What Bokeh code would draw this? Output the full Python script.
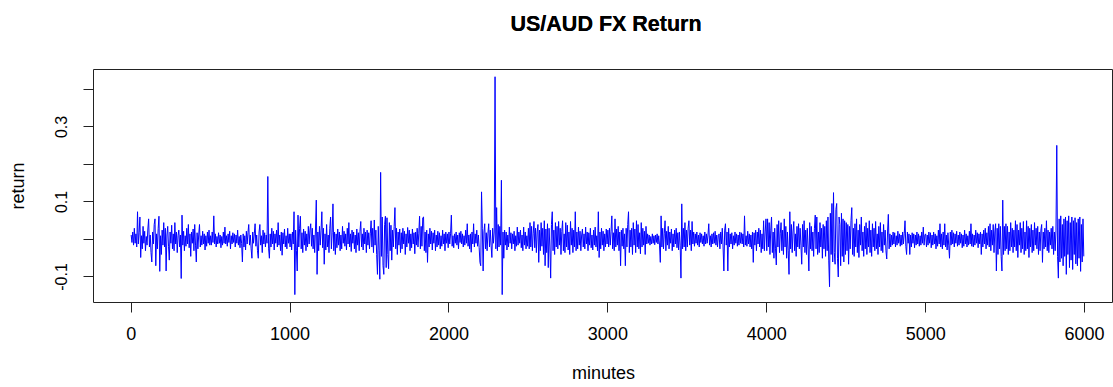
from bokeh.plotting import figure
from bokeh.models import FixedTicker, Range1d, Title
from bokeh.embed import file_html
from bokeh.resources import INLINE
import numpy as np

# US/AUD returns in thousandths, one value every 5 minutes, 500 minutes per list
ret_0000 = [12, -8, 20, -15, 30, -10, 15, -20, 74, -12,
            18, 60, -48, 10, -25, 35, -10, 22, -30, 8,
            -15, 28, 55, -20, 12, -35, -60, 20, -12, 40,
            55, -70, 15, -25, 30, 62, -85, 10, -40, 25,
            -15, 45, -20, 30, -84, 12, 35, -18, -55, 20,
            -10, 38, -25, 15, -30, 45, -12, 20, -35, 10,
            25, -20, 12, -104, 65, -15, 22, -30, 10, -18,
            30, -12, 40, -22, 15, -45, 20, -10, 28, -30,
            40, -15, -60, 18, -25, 12, 40, -20, 10, -15,
            22, -12, 15, -28, 10, -18, 20, -10, 25, -15]
ret_0500 = [10, -15, 20, -8, 63, -12, 15, -20, 8, -12,
            18, -10, 12, -22, 8, -15, 20, -10, 33, -12,
            10, -18, 15, -8, 22, -25, 10, -12, 18, -8,
            15, -20, 12, -10, 25, -15, 8, -22, 12, -10,
            -60, 15, -20, 10, -28, 22, -12, 18, 40, -15,
            12, -25, -50, 20, -10, 15, 42, -18, 12, -30,
            -50, 20, 40, -15, 10, -35, 25, -12, 18, -20,
            12, -10, 168, -25, -50, 15, -20, 30, -12, 22,
            -28, 15, -10, 25, -20, 45, -15, 12, -30, 20,
            -42, 18, -12, 28, -20, 10, -25, 30, -10, 15]
ret_1000 = [-20, 15, -28, 20, -12, 74, -147, 25, -30, -84,
            65, -20, 30, 62, -25, 18, -35, 28, -15, 22,
            -30, 15, -20, 35, -12, 25, 42, -18, 30, -25,
            12, -35, 28, 105, -93, 20, -30, 35, -15, 25,
            74, -22, 30, -66, 15, -28, 40, -20, 12, -35,
            30, 60, -25, 18, 95, -30, 20, -40, 15, -22,
            28, -15, 20, -30, 12, -25, 35, -10, 22, -18,
            15, -28, 30, -12, 45, -20, 15, -32, 25, -10,
            20, -25, 12, -35, 28, -15, 18, -30, 22, 48,
            -20, 15, -28, 30, -12, 20, -35, 25, -15, 18]
ret_1500 = [-25, 15, 50, -20, 30, -35, 52, -15, 25, -40,
            -93, 35, -30, -106, 179, -45, 60, -70, -93, 40,
            62, -75, 58, -40, -78, 45, -30, 38, -55, 25,
            -20, 35, 85, -25, 30, -40, 20, -15, 28, -35,
            18, -25, 30, -12, 22, -40, 15, -20, 32, -10,
            25, -30, 15, -22, 28, -12, 18, -38, 20, -15,
            30, -20, 15, 62, -25, 35, -18, 58, 60, -30,
            20, -35, 25, -61, 15, -20, 30, -12, 22, -28,
            18, -10, 25, -30, 12, -20, 22, -15, 18, -25,
            10, -18, 25, -12, 15, -30, 20, -10, 15, -22]
ret_2000 = [20, -12, 15, 65, -18, 10, -22, 15, -10, 20,
            -15, 12, -25, 18, -8, 22, -12, 15, -20, 10,
            -15, 25, -10, 42, -18, 12, -25, 15, -34, 20,
            -12, 42, -20, 15, -10, 25, -18, 12, -22, -61,
            -70, 127, 30, -84, 20, 42, -25, 18, -30, 15,
            42, -20, 25, -15, -48, 30, -10, 20, 434, -25,
            85, -30, 40, -20, 35, -15, 158, -147, 20, -50,
            25, -15, 20, -28, 12, -20, 33, -10, 18, -25,
            15, -12, 22, -30, 10, -18, 33, -15, 20, -10,
            25, -22, 12, -30, 33, -15, 20, -25, 10, -18]
ret_2500 = [30, -25, 45, -20, 35, -30, 15, 48, -22, 30,
            -35, 20, 40, -61, 25, -30, 45, -18, 30, -40,
            50, -70, 28, -35, 42, -75, 30, -20, -103, 40,
            74, -30, 25, -40, 45, -20, 35, -25, 48, -15,
            30, -40, 22, 50, -30, 15, -35, 45, -20, 38,
            -28, 20, -40, 48, -15, 30, -35, 25, -20, 74,
            -30, 20, -25, 33, -15, 22, -30, 12, 28, -20,
            15, -25, 33, -12, 20, -30, 18, -15, 30, -22,
            12, -28, 25, -15, 33, -20, 10, -30, 74, -48,
            20, -25, 30, -15, 22, -30, 15, -20, 28, -12]
ret_3000 = [25, -20, 30, -15, 22, 63, -25, 18, -30, 55,
            -20, 28, -15, 35, -30, 20, -70, 25, -18, 30,
            -25, 15, -70, 30, -20, 40, 74, -35, 25, -20,
            30, -40, 45, -15, 28, -35, 50, -20, 40, -25,
            18, -38, 45, -20, 30, -15, 22, -40, 35, -12,
            15, -10, 12, -15, 8, -12, 15, -10, 10, -14,
            12, -8, 15, -12, 10, -15, -61, 63, -20, 30,
            -25, 15, 50, -30, 22, -15, 35, -25, 20, -10,
            28, -30, 15, -20, 25, -12, 30, -22, 18, -28,
            20, -15, -103, 95, -25, 30, -20, 45, -30, 25]
ret_3500 = [-20, 30, 50, -15, 25, -30, 48, -12, 20, -18,
            15, -10, 20, -15, 12, -20, 18, -8, 15, -12,
            10, -18, 20, -12, 15, -10, 12, 42, -15, 10,
            -20, 15, -12, 18, -10, 22, -15, 12, -20, 10,
            15, -25, 20, -12, 30, -20, -84, 25, 42, -15,
            20, -84, 30, -20, 15, -12, 18, -25, 10, -15,
            20, -10, 15, -18, 12, -15, 20, -10, 18, -12,
            15, -20, 63, -15, 10, -18, 22, -12, 15, -20,
            12, -25, 20, -61, 18, -15, 25, -30, 20, -12,
            30, -20, 25, -35, 15, -25, 50, -30, 20, 55]
ret_4000 = [-30, 55, -20, 45, -40, 25, 60, -35, 20, -50,
            30, -25, -68, 40, -20, 50, -35, 15, 45, -30,
            25, -40, 55, -20, 35, -50, 20, -30, -93, 74,
            -25, 40, -35, 20, 48, -30, 15, -45, 35, -20,
            42, -25, 30, -15, -66, 40, -20, 50, -35, 25,
            -40, 30, -20, -84, 45, -25, 35, -30, 20, -45,
            30, 65, -25, 60, -40, 20, -35, 45, -20, 30,
            -50, 40, -25, 35, -45, 50, -30, 60, -55, -126,
            70, -40, 96, -60, 125, -35, -66, 80, 96, -50,
            -100, 60, 40, -70, 70, -45, 55, -60, 50, -40]
ret_4500 = [45, -30, 40, -66, 35, -25, 50, 85, -40, 30,
            -45, 42, -20, 55, -35, 25, -48, 40, -15, 60,
            -30, 20, -45, 35, -25, 45, -40, 30, -20, 50,
            -35, 25, -45, 42, -20, 30, -30, 48, -25, 15,
            -40, 35, -20, 45, -30, 20, -35, 40, -15, 25,
            -30, -52, 20, 67, -25, 15, -20, 12, -15, 20,
            -12, 18, -20, 10, -15, 22, -10, 15, -18, 12,
            -15, 20, -12, 15, 50, -18, -40, 20, -10, 15,
            -40, 12, -20, 18, -10, 15, -22, 12, -15, 20,
            -12, 15, -18, 10, -15, 20, -10, 33, -15, 12]
ret_5000 = [15, -20, 12, -15, 20, -10, 18, -22, 12, -15,
            20, -12, 15, -25, 10, -18, 25, -12, 42, -20,
            15, -25, 20, -15, 42, -20, 12, -28, 18, -15,
            -50, 20, -15, 25, -12, 18, -20, 15, -10, 22,
            -18, 12, -15, 20, -10, 15, -22, 12, -18, 25,
            -12, 15, -20, 10, -15, 22, -12, 42, -18, 15,
            -20, 12, -15, 25, -10, 18, -22, 15, -12, 20,
            -40, 15, -20, 25, -12, 30, -25, 18, -15, 35,
            -20, 42, -30, 25, -15, 40, -35, 20, 42, -84,
            30, -40, 42, -25, 35, -45, -84, 105, -40, 35]
ret_5500 = [-30, 42, -25, 35, -40, 20, -30, 45, -20, 30,
            -35, 25, -20, 50, -30, 40, -48, 25, -15, 45,
            -35, 30, -25, 48, -40, 20, -30, 50, -25, 35,
            -48, 30, -20, 40, -35, 25, -30, 45, -15, 30,
            -25, 35, -40, 20, -30, 25, 40, -61, 20, -25,
            30, -20, 50, -30, 25, -35, 20, -15, 30, -25,
            35, -40, 20, -30, 25, 251, -45, -103, 55, -60,
            63, -50, 40, -70, 55, -45, 60, -93, 50, -40,
            63, -75, 45, -55, 60, -80, 50, -40, 58, -65,
            45, -70, 55, -50, 60, -85, 40, -60, 55, -45]

x_ticks = [0, 1000, 2000, 3000, 4000, 5000, 6000]
y_ticks = [-0.1, 0.0, 0.1, 0.2, 0.3, 0.4]
y_tick_labels = {-0.1: "-0.1", 0.0: "", 0.1: "0.1", 0.2: "", 0.3: "0.3", 0.4: ""}

ret = np.array(ret_0000 + ret_0500 + ret_1000 + ret_1500 + ret_2000 + ret_2500 +
               ret_3000 + ret_3500 + ret_4000 + ret_4500 + ret_5000 + ret_5500) / 1000.0
minutes = np.arange(len(ret)) * 5

FONT = "Liberation Sans"

p = figure(width=1113, height=387, output_backend="svg", toolbar_location=None,
           x_range=Range1d(-237, 6182), y_range=Range1d(-0.168, 0.4533),
           min_border_left=93, min_border_right=0, min_border_top=69,
           min_border_bottom=85, title="US/AUD FX Return")

p.line(minutes, ret, line_color="#0000FF", line_width=1)

p.title.align = "left"
p.title.offset = 417
p.title.vertical_align = "bottom"
p.title.text_font = FONT
p.title.text_font_size = "21.5px"
p.title.text_font_style = "bold"
p.title.text_color = "black"
p.title.standoff = 0

# blank spacer between plot frame and title (R puts the title higher)
spacer = Title(text=" ", text_font=FONT, text_font_size="6px", standoff=0)
p.above = [spacer, p.title]

p.xgrid.visible = False
p.ygrid.visible = False
p.outline_line_color = "#222222"
p.outline_line_width = 1
p.outline_line_alpha = 1

for ax in (p.xaxis[0], p.yaxis[0]):
    ax.axis_line_color = "#222222"
    ax.major_tick_line_color = "#222222"
    ax.major_tick_out = 10
    ax.major_tick_in = 0
    ax.minor_tick_line_color = None
    ax.major_label_text_font = FONT
    ax.major_label_text_color = "black"
    ax.axis_label_text_font = FONT
    ax.axis_label_text_font_size = "18px"
    ax.axis_label_text_font_style = "normal"
    ax.axis_label_text_color = "black"

p.xaxis.ticker = FixedTicker(ticks=x_ticks)
p.xaxis.bounds = (x_ticks[0], x_ticks[-1])
p.xaxis.axis_label = "minutes"
p.xaxis.major_label_text_font_size = "18px"
p.xaxis.major_label_standoff = 14
p.xaxis.axis_label_standoff = 20

p.yaxis.ticker = FixedTicker(ticks=y_ticks)
p.yaxis.bounds = (y_ticks[0], y_ticks[-1])
p.yaxis.major_label_overrides = y_tick_labels
p.yaxis.major_label_orientation = "vertical"
p.yaxis.major_label_text_font_size = "16px"
p.yaxis.axis_label = "return"
p.yaxis.major_label_standoff = 16
p.yaxis.axis_label_standoff = 25

open("out.html", "w").write(file_html(p, INLINE))
